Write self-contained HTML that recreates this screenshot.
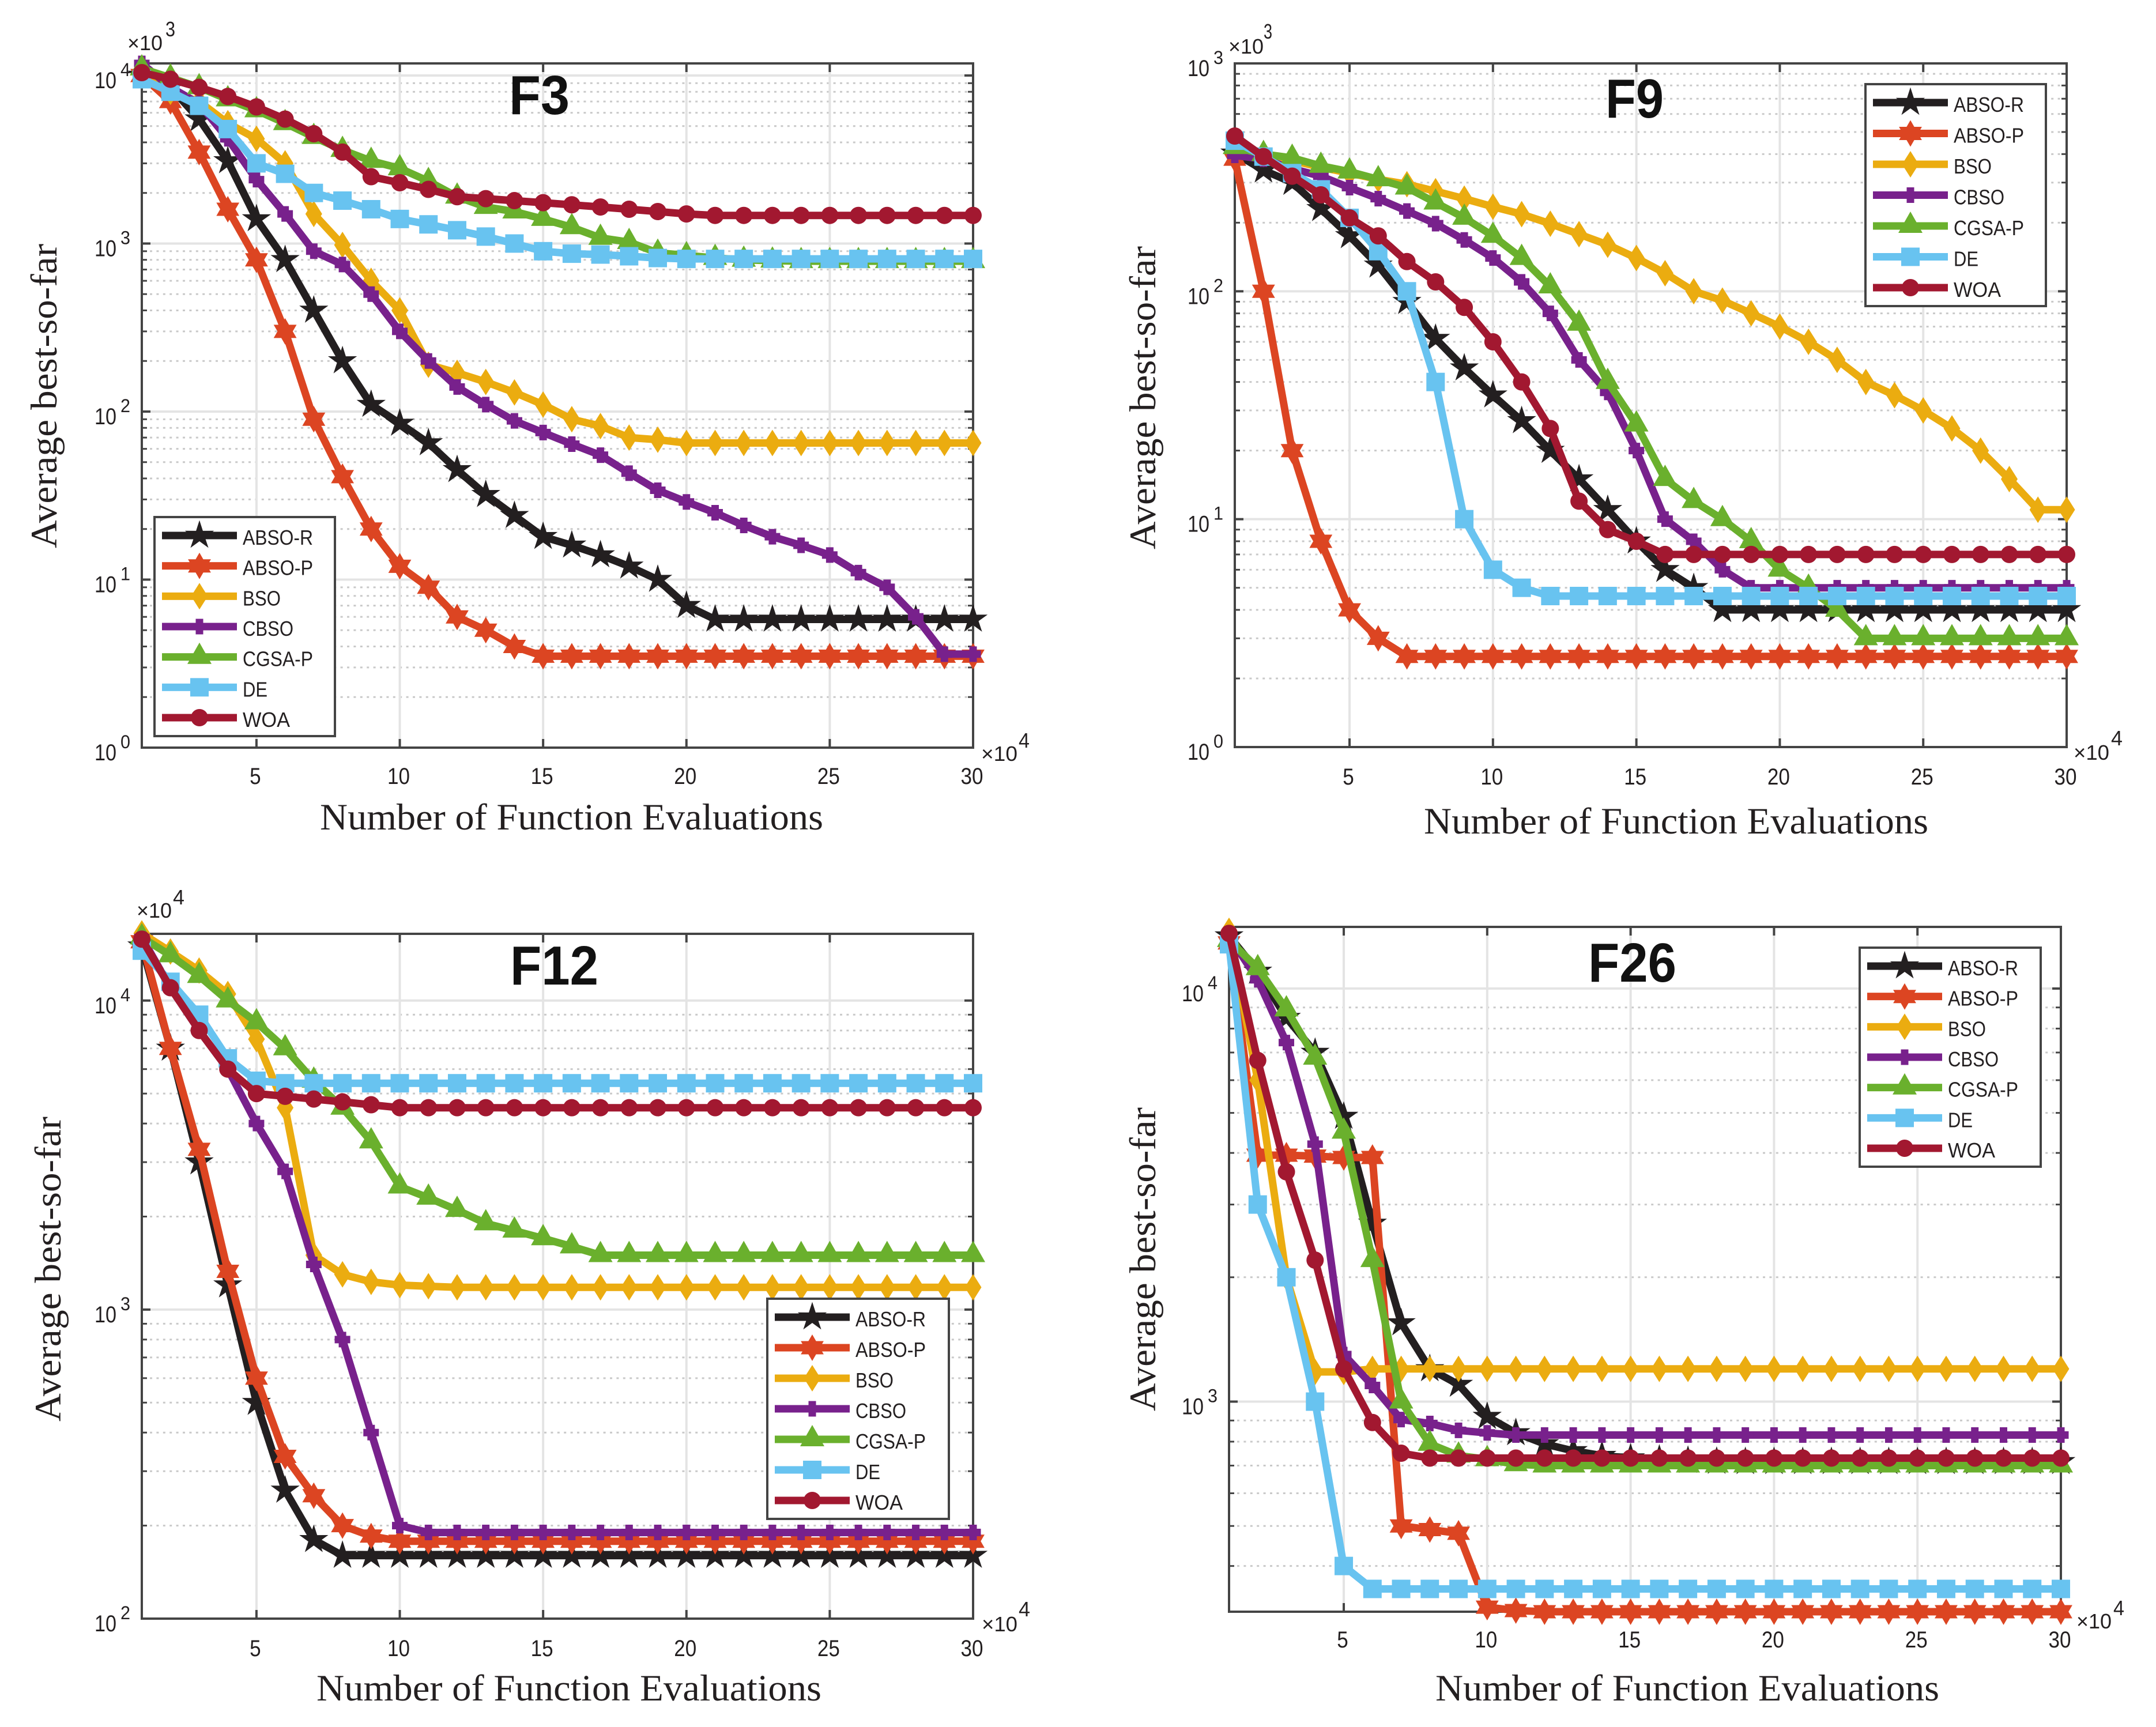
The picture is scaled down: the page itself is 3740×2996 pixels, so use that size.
<!DOCTYPE html>
<html lang="en">
<head>
<meta charset="utf-8">
<title>Convergence curves F3, F9, F12, F26</title>
<style>
html,body{margin:0;padding:0;background:#fff;}
svg{display:block;}
</style>
</head>
<body>
<svg id="figure" xmlns="http://www.w3.org/2000/svg" width="3740" height="2996" viewBox="0 0 3740 2996">
<rect x="0" y="0" width="3740" height="2996" fill="#ffffff"/>
</svg>
<script>
// ---- shared categories ----
const evaluations = [1,2,3,4,5,6,7,8,9,10,11,12,13,14,15,16,17,18,19,20,21,22,23,24,25,26,27,28,29,30];
const xTickValues = [5,10,15,20,25,30];
const xTickLabels = ['5','10','15','20','25','30'];
const seriesNames = ['ABSO-R','ABSO-P','BSO','CBSO','CGSA-P','DE','WOA'];

// ---- F3 values ----
const f3AbsoR = [10000,8500,5500,3100,1400,800,400,200,110,85,65,45,32,24,18,16,14,12,10,7,5.8,5.8,5.8,5.8,5.8,5.8,5.8,5.8,5.8,5.8];
const f3AbsoP = [10000,7000,3500,1600,800,300,90,41,20,12,9,6,5,4,3.5,3.5,3.5,3.5,3.5,3.5,3.5,3.5,3.5,3.5,3.5,3.5,3.5,3.5,3.5,3.5];
const f3Bso = [10000,8000,7000,5200,4200,3000,1500,980,600,400,190,170,150,130,110,90,82,70,68,65,65,65,65,65,65,65,65,65,65,65];
const f3Cbso = [11800,8500,6800,4200,2400,1500,900,750,500,300,200,140,110,88,75,64,55,43,34,29,25,21,18,16,14,11,9,6,3.6,3.6];
const f3Cgsa = [11000,9700,8500,7200,6200,5200,4300,3600,3100,2800,2350,1900,1650,1550,1400,1250,1080,1020,880,850,820,800,790,785,785,785,785,785,785,785];
const f3De = [9500,8000,6600,4800,3000,2600,2000,1800,1600,1400,1300,1200,1100,1000,900,870,860,840,820,810,810,810,810,810,810,810,810,810,810,810];
const f3Woa = [10400,9500,8500,7500,6500,5500,4500,3500,2500,2300,2100,1900,1850,1800,1750,1700,1650,1600,1550,1500,1470,1470,1470,1470,1470,1470,1470,1470,1470,1470];

// ---- F9 values ----
const f9AbsoR = [403,340,300,230,175,130,90,62,46,35,27,20,15,11,8,6,5,4,4,4,4,4,4,4,4,4,4,4,4,4];
const f9AbsoP = [380,100,20,8,4,3,2.5,2.5,2.5,2.5,2.5,2.5,2.5,2.5,2.5,2.5,2.5,2.5,2.5,2.5,2.5,2.5,2.5,2.5,2.5,2.5,2.5,2.5,2.5,2.5];
const f9Bso = [420,400,375,350,330,310,295,275,255,235,218,198,178,160,140,120,100,91,80,70,60,50,40,35,30,25,20,15,11,11];
const f9Cbso = [395,380,345,320,285,255,225,198,168,140,110,80,50,36,20,10,8,6,5,5,5,5,5,5,5,5,5,5,5,5];
const f9Cgsa = [429,400,385,355,335,310,285,245,210,175,140,105,72,40,26,15,12,10,8,6,5,4,3,3,3,3,3,3,3,3];
const f9De = [458,390,330,280,210,150,100,40,10,6,5,4.6,4.6,4.6,4.6,4.6,4.6,4.6,4.6,4.6,4.6,4.6,4.6,4.6,4.6,4.6,4.6,4.6,4.6,4.6];
const f9Woa = [480,390,320,265,210,175,135,110,85,60,40,25,12,9,8,7,7,7,7,7,7,7,7,7,7,7,7,7,7,7];

// ---- F12 values ----
const f12AbsoR = [15000,7000,3000,1200,500,260,180,160,160,160,160,160,160,160,160,160,160,160,160,160,160,160,160,160,160,160,160,160,160,160];
const f12AbsoP = [15500,7000,3300,1330,600,335,250,200,185,178,178,178,178,178,178,178,178,178,178,178,178,178,178,178,178,178,178,178,178,178];
const f12Bso = [16500,14400,12500,10500,7500,4500,1500,1300,1230,1200,1190,1180,1180,1180,1180,1180,1180,1180,1180,1180,1180,1180,1180,1180,1180,1180,1180,1180,1180,1180];
const f12Cbso = [16000,11000,8000,6000,4000,2800,1400,800,400,200,190,190,190,190,190,190,190,190,190,190,190,190,190,190,190,190,190,190,190,190];
const f12Cgsa = [16000,14000,12000,10000,8500,7000,5500,4500,3500,2500,2300,2100,1900,1800,1700,1600,1500,1500,1500,1500,1500,1500,1500,1500,1500,1500,1500,1500,1500,1500];
const f12De = [14500,11500,9000,6500,5500,5400,5400,5400,5400,5400,5400,5400,5400,5400,5400,5400,5400,5400,5400,5400,5400,5400,5400,5400,5400,5400,5400,5400,5400,5400];
const f12Woa = [15800,11000,8000,6000,5000,4900,4800,4700,4600,4500,4500,4500,4500,4500,4500,4500,4500,4500,4500,4500,4500,4500,4500,4500,4500,4500,4500,4500,4500,4500];

// ---- F26 values ----
const f26AbsoR = [13400,11000,8500,7000,4900,2700,1550,1200,1100,920,840,790,760,740,730,725,720,716,715,715,715,715,715,715,715,715,715,715,715,715];
const f26AbsoP = [12900,3950,3950,3930,3900,3900,500,490,480,318,312,310,310,310,310,310,310,310,310,310,310,310,310,310,310,310,310,310,310,310];
const f26Bso = [13800,6000,2000,1180,1180,1200,1200,1200,1200,1200,1200,1200,1200,1200,1200,1200,1200,1200,1200,1200,1200,1200,1200,1200,1200,1200,1200,1200,1200,1200];
const f26Cbso = [13400,10500,7400,4200,1300,1094,905,885,852,840,830,830,830,830,830,830,830,830,830,830,830,830,830,830,830,830,830,830,830,830];
const f26Cgsa = [13100,11200,8900,6800,4500,2200,1000,790,740,725,705,700,700,700,700,700,700,700,700,700,700,700,700,700,700,700,700,700,700,700];
const f26De = [12800,3000,2000,1000,400,352,352,352,352,352,352,352,352,352,352,352,352,352,352,352,352,352,352,352,352,352,352,352,352,352];
const f26Woa = [13600,6700,3600,2200,1200,890,750,730,730,730,730,730,730,730,730,730,730,730,730,730,730,730,730,730,730,730,730,730,730,730];

// ---- styling (not data) ----
const seriesColors = ['#231f20','#dc4522','#ebac10','#78218c','#6ab02d','#68c3f0','#a21830'];
const markerKinds = ['star','hexagram','diamond','plus','triangle','square','circle'];
const legendTextWidths = [122,122,66,88,122,43,82];

const panels = [
  {id:'f3', title:'F3', values:[f3AbsoR,f3AbsoP,f3Bso,f3Cbso,f3Cgsa,f3De,f3Woa],
   yMin:1, yMax:11800, l:246, r:1688, t:110, b:1297,
   titlePos:[883,105,198], xLab:[555,873,1439], yLab:[98,423,951], tickBase:1360,
   legend:[268,581,897,1277],
   xExp:[1702,63,1320,1767,19,1297], yExp:[221,61,87,287,17,63], yExpText:'3'},
  {id:'f9', title:'F9', values:[f9AbsoR,f9AbsoP,f9Bso,f9Cbso,f9Cgsa,f9De,f9Woa],
   yMin:1, yMax:1000, l:2142, r:3585, t:110, b:1296,
   titlePos:[2785,101,204], xLab:[2470,875,1446], yLab:[2004,427,953], tickBase:1361,
   legend:[3236,3549,146,531],
   xExp:[3597,62,1318,3662,20,1293], yExp:[2131,61,93,2192,15,67], yExpText:'3'},
  {id:'f12', title:'F12', values:[f12AbsoR,f12AbsoP,f12Bso,f12Cbso,f12Cgsa,f12De,f12Woa],
   yMin:100, yMax:16440, l:246, r:1688, t:1620, b:2808,
   titlePos:[885,153,1708], xLab:[549,876,2950], yLab:[105,1937,2466], tickBase:2873,
   legend:[1331,1646,2253,2635],
   xExp:[1703,62,2830,1767,20,2804], yExp:[237,61,1592,300,20,1569], yExpText:'4'},
  {id:'f26', title:'F26', values:[f26AbsoR,f26AbsoP,f26Bso,f26Cbso,f26Cgsa,f26De,f26Woa],
   yMin:310, yMax:14100, l:2132, r:3575, t:1608, b:2796,
   titlePos:[2755,153,1703], xLab:[2490,874,2950], yLab:[2004,1921,2448], tickBase:2858,
   legend:[3226,3540,1644,2024],
   xExp:[3602,61,2825,3666,19,2802], yExp:null, yExpText:''}
];

const NS = 'http://www.w3.org/2000/svg';
const root = document.getElementById('figure');
const SANS = '"Liberation Sans", sans-serif';
const SERIF = '"Liberation Serif", serif';
const INK = '#231f20';
const AXIS = '#444444';

function make(parent, tag, attrs, name) {
  const e = document.createElementNS(NS, tag);
  for (const k in attrs) e.setAttribute(k, attrs[k]);
  
  
  parent.appendChild(e);
  return e;
}

function label(parent, str, x, y, size, width, family, name, extra) {
  const attrs = {x:x, y:y, 'font-size':size, 'font-family':family, fill:INK,
    textLength:width, lengthAdjust:'spacingAndGlyphs'};
  if (extra) for (const k in extra) attrs[k] = extra[k];
  const t = make(parent, 'text', attrs, name);
  t.textContent = str;
  return t;
}

function regular(cx, cy, radius, n, start) {
  const pts = [];
  for (let i = 0; i < n; i++) {
    const a = start + i * 2 * Math.PI / n;
    pts.push([cx + radius * Math.cos(a), cy + radius * Math.sin(a)]);
  }
  return pts;
}

function toPoints(pts) {
  return pts.map(p => p[0].toFixed(1) + ',' + p[1].toFixed(1)).join(' ');
}

function drawMarker(parent, kind, cx, cy, color, name) {
  if (kind === 'circle') {
    make(parent, 'circle', {cx:cx, cy:cy, r:15, fill:color}, name);
  } else if (kind === 'square') {
    make(parent, 'rect', {x:cx-16, y:cy-16, width:32, height:32, fill:color}, name);
  } else if (kind === 'diamond') {
    make(parent, 'polygon', {points:toPoints([[cx,cy-23],[cx+14.5,cy],[cx,cy+23],[cx-14.5,cy]]), fill:color}, name);
  } else if (kind === 'triangle') {
    make(parent, 'polygon', {points:toPoints([[cx,cy-25],[cx+21,cy+12],[cx-21,cy+12]]), fill:color}, name);
  } else if (kind === 'plus') {
    make(parent, 'path', {d:'M'+(cx-6.5)+' '+(cy-13.5)+'h13v7h7v13h-7v7h-13v-7h-7v-13h7z', fill:color}, name);
  } else if (kind === 'hexagram') {
    const up = regular(cx, cy, 23, 3, -Math.PI/2);
    const down = regular(cx, cy, 23, 3, Math.PI/2);
    make(parent, 'path', {d:'M'+toPoints(up)+'zM'+toPoints(down)+'z', fill:color}, name);
  } else {
    const outer = regular(cx, cy, 26.5, 5, -Math.PI/2);
    const inner = regular(cx, cy, 10, 5, -Math.PI/2 + Math.PI/5);
    const pts = [];
    for (let i = 0; i < 5; i++) { pts.push(outer[i]); pts.push(inner[i]); }
    make(parent, 'polygon', {points:toPoints(pts), fill:color}, name);
  }
}

function drawPanel(p) {
  const g = make(root, 'g', {}, p.id + '-chart');

  const xScale = v => p.l + (v - 1) / 29 * (p.r - p.l);
  const lmin = Math.log10(p.yMin), lmax = Math.log10(p.yMax);
  const yScale = v => p.b - (Math.log10(v) - lmin) / (lmax - lmin) * (p.b - p.t);

  const majors = [], minors = [];
  for (let d = Math.floor(lmin); d <= Math.ceil(lmax); d++) {
    const base = Math.pow(10, d);
    if (base >= p.yMin * 0.999 && base <= p.yMax * 1.001) majors.push({v:base, d:d});
    for (let m = 2; m < 10; m++) {
      const v = m * base;
      if (v > p.yMin * 1.001 && v < p.yMax * 0.999) minors.push(v);
    }
  }

  const grid = make(g, 'g', {}, p.id + '-grid');
  minors.forEach(v => {
    make(grid, 'line', {x1:p.l+14, x2:p.r-4, y1:yScale(v), y2:yScale(v), stroke:'#c9c9c9', 'stroke-width':3, 'stroke-dasharray':'4 7.4'}, 'minor-gridline');
  });
  majors.forEach(m => {
    make(grid, 'line', {x1:p.l, x2:p.r, y1:yScale(m.v), y2:yScale(m.v), stroke:'#e4e4e4', 'stroke-width':4}, 'major-gridline');
  });
  xTickValues.forEach(v => {
    make(grid, 'line', {x1:xScale(v), x2:xScale(v), y1:p.t, y2:p.b, stroke:'#e4e4e4', 'stroke-width':4}, 'vertical-gridline');
  });

  const axes = make(g, 'g', {}, p.id + '-axes');
  make(axes, 'rect', {x:p.l, y:p.t, width:p.r-p.l, height:p.b-p.t, fill:'none', stroke:AXIS, 'stroke-width':4}, 'plot-frame');
  xTickValues.forEach(v => {
    make(axes, 'line', {x1:xScale(v), x2:xScale(v), y1:p.b, y2:p.b-15, stroke:AXIS, 'stroke-width':4}, 'x-tick-bottom');
    make(axes, 'line', {x1:xScale(v), x2:xScale(v), y1:p.t, y2:p.t+15, stroke:AXIS, 'stroke-width':4}, 'x-tick-top');
  });
  majors.forEach(m => {
    make(axes, 'line', {x1:p.l, x2:p.l+15, y1:yScale(m.v), y2:yScale(m.v), stroke:AXIS, 'stroke-width':4}, 'y-tick-left');
    make(axes, 'line', {x1:p.r, x2:p.r-15, y1:yScale(m.v), y2:yScale(m.v), stroke:AXIS, 'stroke-width':4}, 'y-tick-right');
  });
  minors.forEach(v => {
    make(axes, 'line', {x1:p.l, x2:p.l+9, y1:yScale(v), y2:yScale(v), stroke:AXIS, 'stroke-width':3}, 'y-minor-tick-left');
    make(axes, 'line', {x1:p.r, x2:p.r-9, y1:yScale(v), y2:yScale(v), stroke:AXIS, 'stroke-width':3}, 'y-minor-tick-right');
  });

  xTickValues.forEach((v, i) => {
    const s = xTickLabels[i];
    const w = s.length * 19.5;
    label(axes, s, xScale(v) - w/2 - 2, p.tickBase, 40, w, SANS, 'x-tick-label');
  });
  majors.forEach(m => {
    const y = yScale(m.v);
    label(axes, '10', p.l-82, y+22, 40, 38, SANS, 'y-tick-label');
    label(axes, String(m.d), p.l-37, y+1, 32, 17, SANS, 'y-tick-exponent');
  });

  const xe = p.xExp;
  label(axes, '×10', xe[0], xe[2], 36, xe[1], SANS, 'x-axis-multiplier');
  label(axes, '4', xe[3], xe[5], 36, xe[4], SANS, 'x-axis-multiplier-exponent');
  if (p.yExp) {
    const ye = p.yExp;
    label(axes, '×10', ye[0], ye[2], 36, ye[1], SANS, 'y-axis-multiplier');
    label(axes, p.yExpText, ye[3], ye[5], 36, ye[4], SANS, 'y-axis-multiplier-exponent');
  }

  label(g, 'Number of Function Evaluations', p.xLab[0], p.xLab[2], 65, p.xLab[1], SERIF, 'x-axis-title');
  const yl = p.yLab;
  label(g, 'Average best-so-far', yl[0], yl[2], 65, yl[2]-yl[1], SERIF, 'y-axis-title',
        {transform:'rotate(-90 ' + yl[0] + ' ' + yl[2] + ')'});

  const plot = make(g, 'g', {}, p.id + '-series');
  seriesNames.forEach((name, si) => {
    const vals = p.values[si];
    const sg = make(plot, 'g', {}, 'series-' + name.toLowerCase());
    const pts = evaluations.map((e, i) => [xScale(e), yScale(vals[i])]);
    make(sg, 'polyline', {points:toPoints(pts), fill:'none', stroke:seriesColors[si], 'stroke-width':13, 'stroke-linejoin':'round', 'stroke-linecap':'butt'}, 'series-line');
    pts.forEach(pt => drawMarker(sg, markerKinds[si], pt[0], pt[1], seriesColors[si], 'series-marker'));
  });

  const tp = p.titlePos;
  label(g, p.title, tp[0], tp[2], 96, tp[1], SANS, 'chart-title', {'font-weight':'bold', fill:'#111111'});

  const lg = p.legend;
  const leg = make(g, 'g', {}, p.id + '-legend');
  make(leg, 'rect', {x:lg[0], y:lg[2], width:lg[1]-lg[0], height:lg[3]-lg[2], fill:'#ffffff', stroke:AXIS, 'stroke-width':4}, 'legend-box');
  const rowStep = (lg[3]-lg[2]-64) / 6;
  seriesNames.forEach((name, si) => {
    const cy = lg[2] + 32 + si * rowStep;
    const en = make(leg, 'g', {}, 'legend-entry');
    make(en, 'rect', {x:lg[0]+13, y:cy-6.5, width:130, height:13, fill:seriesColors[si]}, 'legend-line');
    drawMarker(en, markerKinds[si], lg[0]+78, cy, seriesColors[si], 'legend-marker');
    label(en, name, lg[0]+153, cy+16, 36, legendTextWidths[si], SANS, 'legend-label');
  });
}

panels.forEach(drawPanel);
</script>
</body>
</html>
